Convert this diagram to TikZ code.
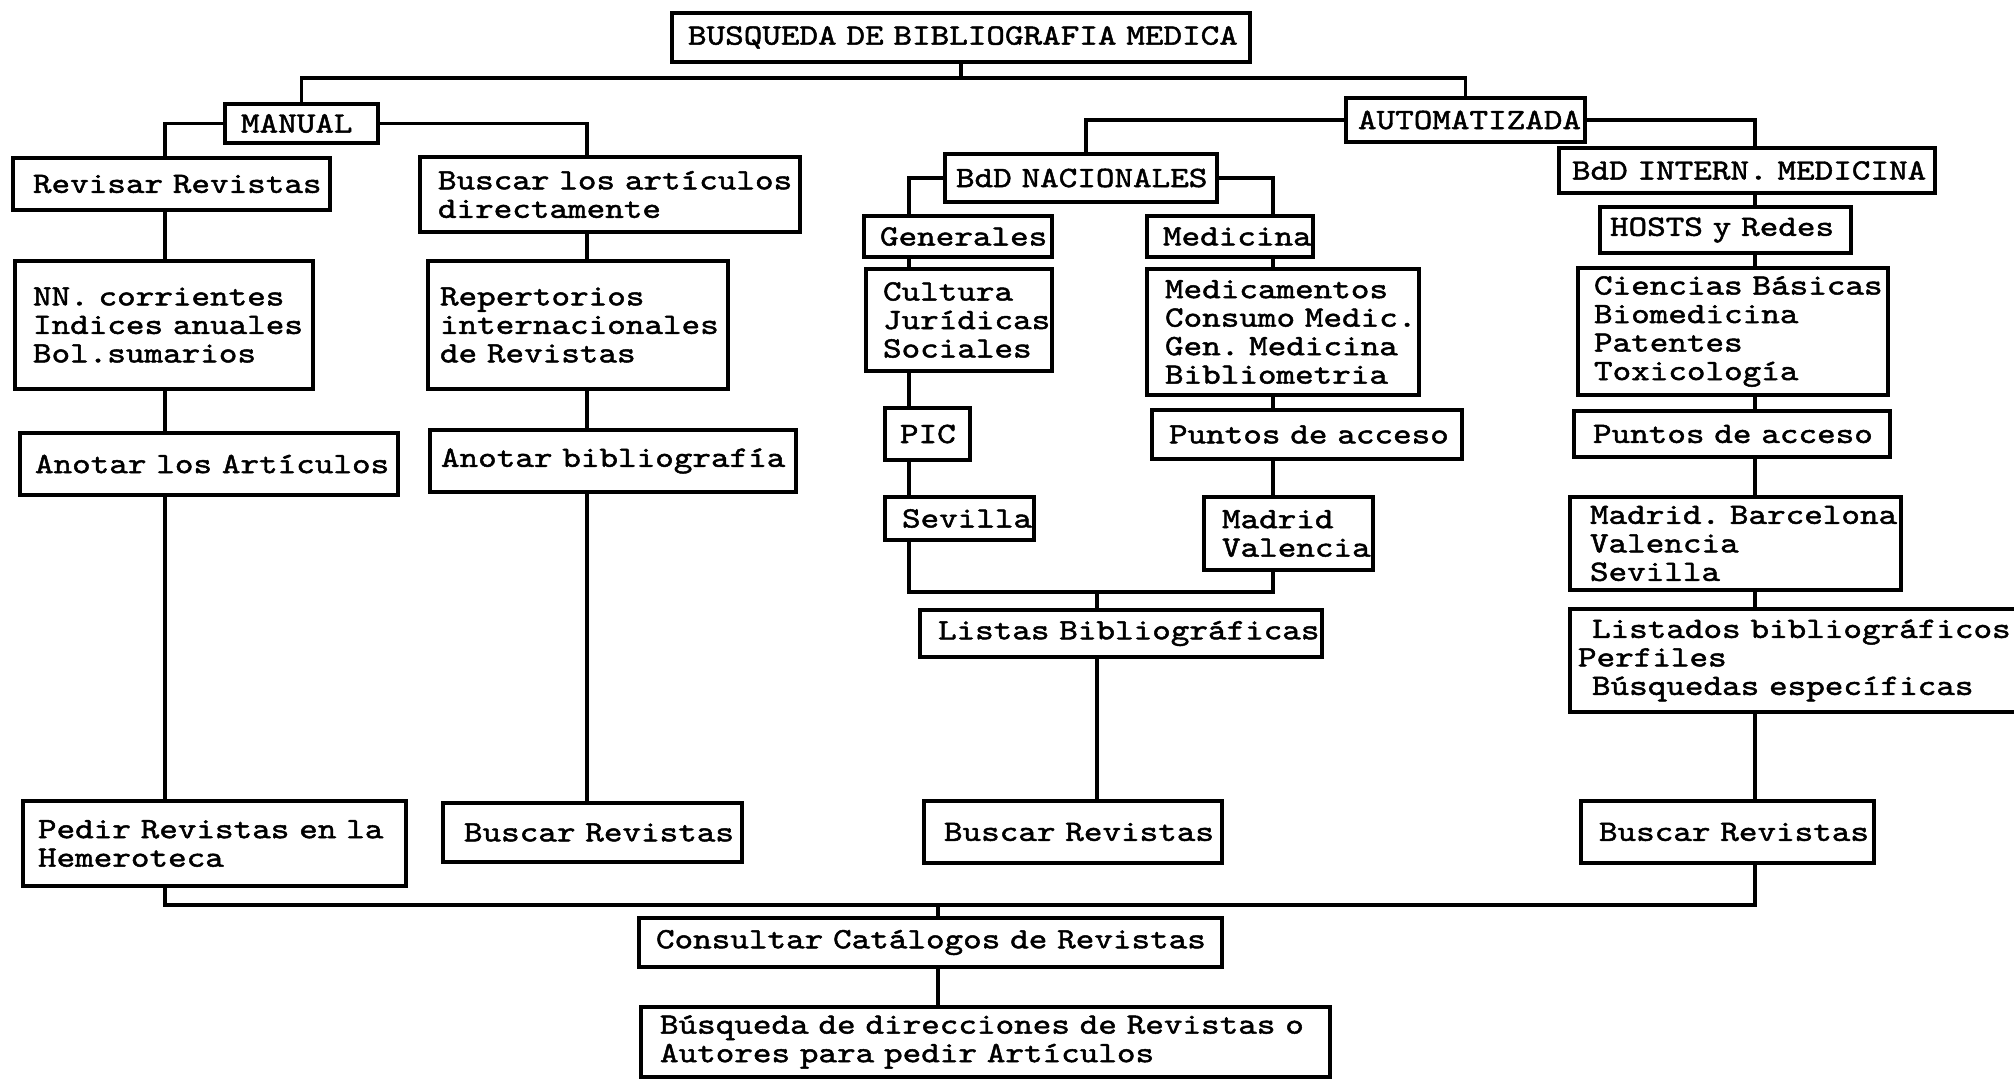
\documentclass[tikz,border=0pt]{standalone}
\usepackage{fontspec}
\newfontfamily\tw[Extension=.otf,FakeStretch=1.2,FakeBold=1.6]{lmmono10-regular}
\tikzset{
  bx/.style={draw, line width=4pt, rectangle, inner ysep=0pt,
    font=\tw\fontsize{29.5}{28.5}\selectfont},
  conn/.style={line width=3.8pt}
}
\newcommand\mybox[8][align=left]{%
  \pgfmathsetmacro\bw{#5-#3}\pgfmathsetmacro\bh{#6-#4}%
  \node[bx, inner xsep=0pt, text width=\bw pt, minimum height=\bh pt, #1]
    (#2) at ({(#3+#5)/2},{(#4+#6)/2}) {\leftskip=#7pt\relax #8\par};}
\begin{document}
\begin{tikzpicture}[x=1pt,y=-1pt]
\useasboundingbox (0,0) rectangle (2014,1080);
% boxes
\mybox{top}{672}{13}{1250}{62}{16}{BUSQUEDA~DE~BIBLIOGRAFIA~MEDICA}
\mybox{manual}{225}{104}{378}{143}{16}{MANUAL}
\mybox{revisar}{13}{158}{330}{210}{20}{Revisar~Revistas}
\mybox{nn}{15}{261}{313}{389}{18}{NN.~corrientes\\Indices~anuales\\Bol.sumarios}
\mybox{anotarA}{20}{433}{398}{495}{15}{Anotar~los~Artículos}
\mybox{pedir}{23}{801}{406}{886}{15}{Pedir~Revistas~en~la\\Hemeroteca}
\mybox{buscarlos}{420}{157}{800}{232}{18}{Buscar~los~artículos\\directamente}
\mybox{repert}{428}{261}{728}{389}{12}{Repertorios\\internacionales\\de~Revistas}
\mybox{anotarB}{430}{430}{796}{492}{11}{Anotar~bibliografía}
\mybox{buscarB}{443}{803}{742}{862}{21}{Buscar~Revistas}
\mybox{auto}{1346}{98}{1585}{142}{12}{AUTOMATIZADA}
\mybox{bddn}{945}{154}{1217}{202}{11}{BdD~NACIONALES}
\mybox{generales}{864}{216}{1052}{257}{16}{Generales}
\mybox{cultura}{866}{269}{1052}{371}{17}{Cultura\\Jurídicas\\Sociales}
\mybox{pic}{885}{408}{970}{460}{15}{PIC}
\mybox{sevillaA}{885}{497}{1034}{540}{17}{Sevilla}
\mybox{medicina}{1147}{216}{1313}{257}{16}{Medicina}
\mybox{medicam}{1147}{269}{1419}{395}{18}{Medicamentos\\Consumo~Medic.\\Gen.~Medicina\\Bibliometria}
\mybox{puntosA}{1152}{410}{1462}{459}{17}{Puntos~de~acceso}
\mybox{madridA}{1204}{497}{1373}{570}{18}{Madrid\\Valencia}
\mybox{listas}{920}{610}{1322}{657}{18}{Listas~Bibliográficas}
\mybox{buscarC}{924}{801}{1222}{863}{20}{Buscar~Revistas}
\mybox{bddi}{1559}{148}{1935}{193}{13}{BdD~INTERN.~MEDICINA}
\mybox{hosts}{1600}{207}{1851}{253}{10}{HOSTS~y~Redes}
\mybox{ciencias}{1578}{268}{1888}{395}{16}{Ciencias~Básicas\\Biomedicina\\Patentes\\Toxicología}
\mybox{puntosB}{1574}{411}{1890}{457}{19}{Puntos~de~acceso}
\mybox{madridB}{1570}{497}{1901}{590}{20}{Madrid.~Barcelona\\Valencia\\Sevilla}
\mybox{listados}{1570}{609}{2030}{712}{8}{\hspace*{14pt}Listados~bibliográficos\\Perfiles\\\hspace*{14pt}Búsquedas~específicas}
\mybox{buscarD}{1581}{801}{1874}{863}{18}{Buscar~Revistas}
\mybox{consultar}{639}{918}{1222}{967}{17}{Consultar~Catálogos~de~Revistas}
\mybox{busqueda}{641}{1007}{1330}{1077}{19}{Búsqueda~de~direcciones~de~Revistas~o\\Autores~para~pedir~Artículos}
% column coordinates
\coordinate (cA) at (165,0);
\coordinate (cB) at (587,0);
\coordinate (cN) at (1086,0);
\coordinate (cC) at (909,0);
\coordinate (cD) at (1273,0);
\coordinate (cE) at (1097,0);
\coordinate (cF) at (1755,0);
\coordinate (cG) at (938,0);
\coordinate (jt) at (961,78);
\coordinate (jm) at (1097,592);
\coordinate (jb) at (938,905);
% connectors
\draw[conn] (top.south) -- (jt);
\draw[conn] (manual.north) |- (jt) -| (auto.north);
\draw[conn] (manual.west) -| (revisar.north -| cA);
\draw[conn] (manual.east) -| (buscarlos.north -| cB);
\draw[conn] (revisar.south -| cA) -- (nn.north -| cA);
\draw[conn] (nn.south -| cA) -- (anotarA.north -| cA);
\draw[conn] (anotarA.south -| cA) -- (pedir.north -| cA);
\draw[conn] (buscarlos.south -| cB) -- (repert.north -| cB);
\draw[conn] (repert.south -| cB) -- (anotarB.north -| cB);
\draw[conn] (anotarB.south -| cB) -- (buscarB.north -| cB);
\draw[conn] (auto.west) -| (bddn.north -| cN);
\draw[conn] (auto.east) -| (bddi.north -| cF);
\draw[conn] (bddn.west) -| (generales.north -| cC);
\draw[conn] (bddn.east) -| (medicina.north -| cD);
\draw[conn] (generales.south -| cC) -- (cultura.north -| cC);
\draw[conn] (cultura.south -| cC) -- (pic.north -| cC);
\draw[conn] (pic.south -| cC) -- (sevillaA.north -| cC);
\draw[conn] (medicina.south -| cD) -- (medicam.north -| cD);
\draw[conn] (medicam.south -| cD) -- (puntosA.north -| cD);
\draw[conn] (puntosA.south -| cD) -- (madridA.north -| cD);
\draw[conn] (sevillaA.south -| cC) |- (jm) -| (madridA.south -| cD);
\draw[conn] (jm) -- (listas.north -| cE);
\draw[conn] (listas.south -| cE) -- (buscarC.north -| cE);
\draw[conn] (bddi.south -| cF) -- (hosts.north -| cF);
\draw[conn] (hosts.south -| cF) -- (ciencias.north -| cF);
\draw[conn] (ciencias.south -| cF) -- (puntosB.north -| cF);
\draw[conn] (puntosB.south -| cF) -- (madridB.north -| cF);
\draw[conn] (madridB.south -| cF) -- (listados.north -| cF);
\draw[conn] (listados.south -| cF) -- (buscarD.north -| cF);
\draw[conn] (pedir.south -| cA) |- (jb) -| (buscarD.south -| cF);
\draw[conn] (jb) -- (consultar.north -| cG);
\draw[conn] (consultar.south -| cG) -- (busqueda.north -| cG);
\end{tikzpicture}
\end{document}
